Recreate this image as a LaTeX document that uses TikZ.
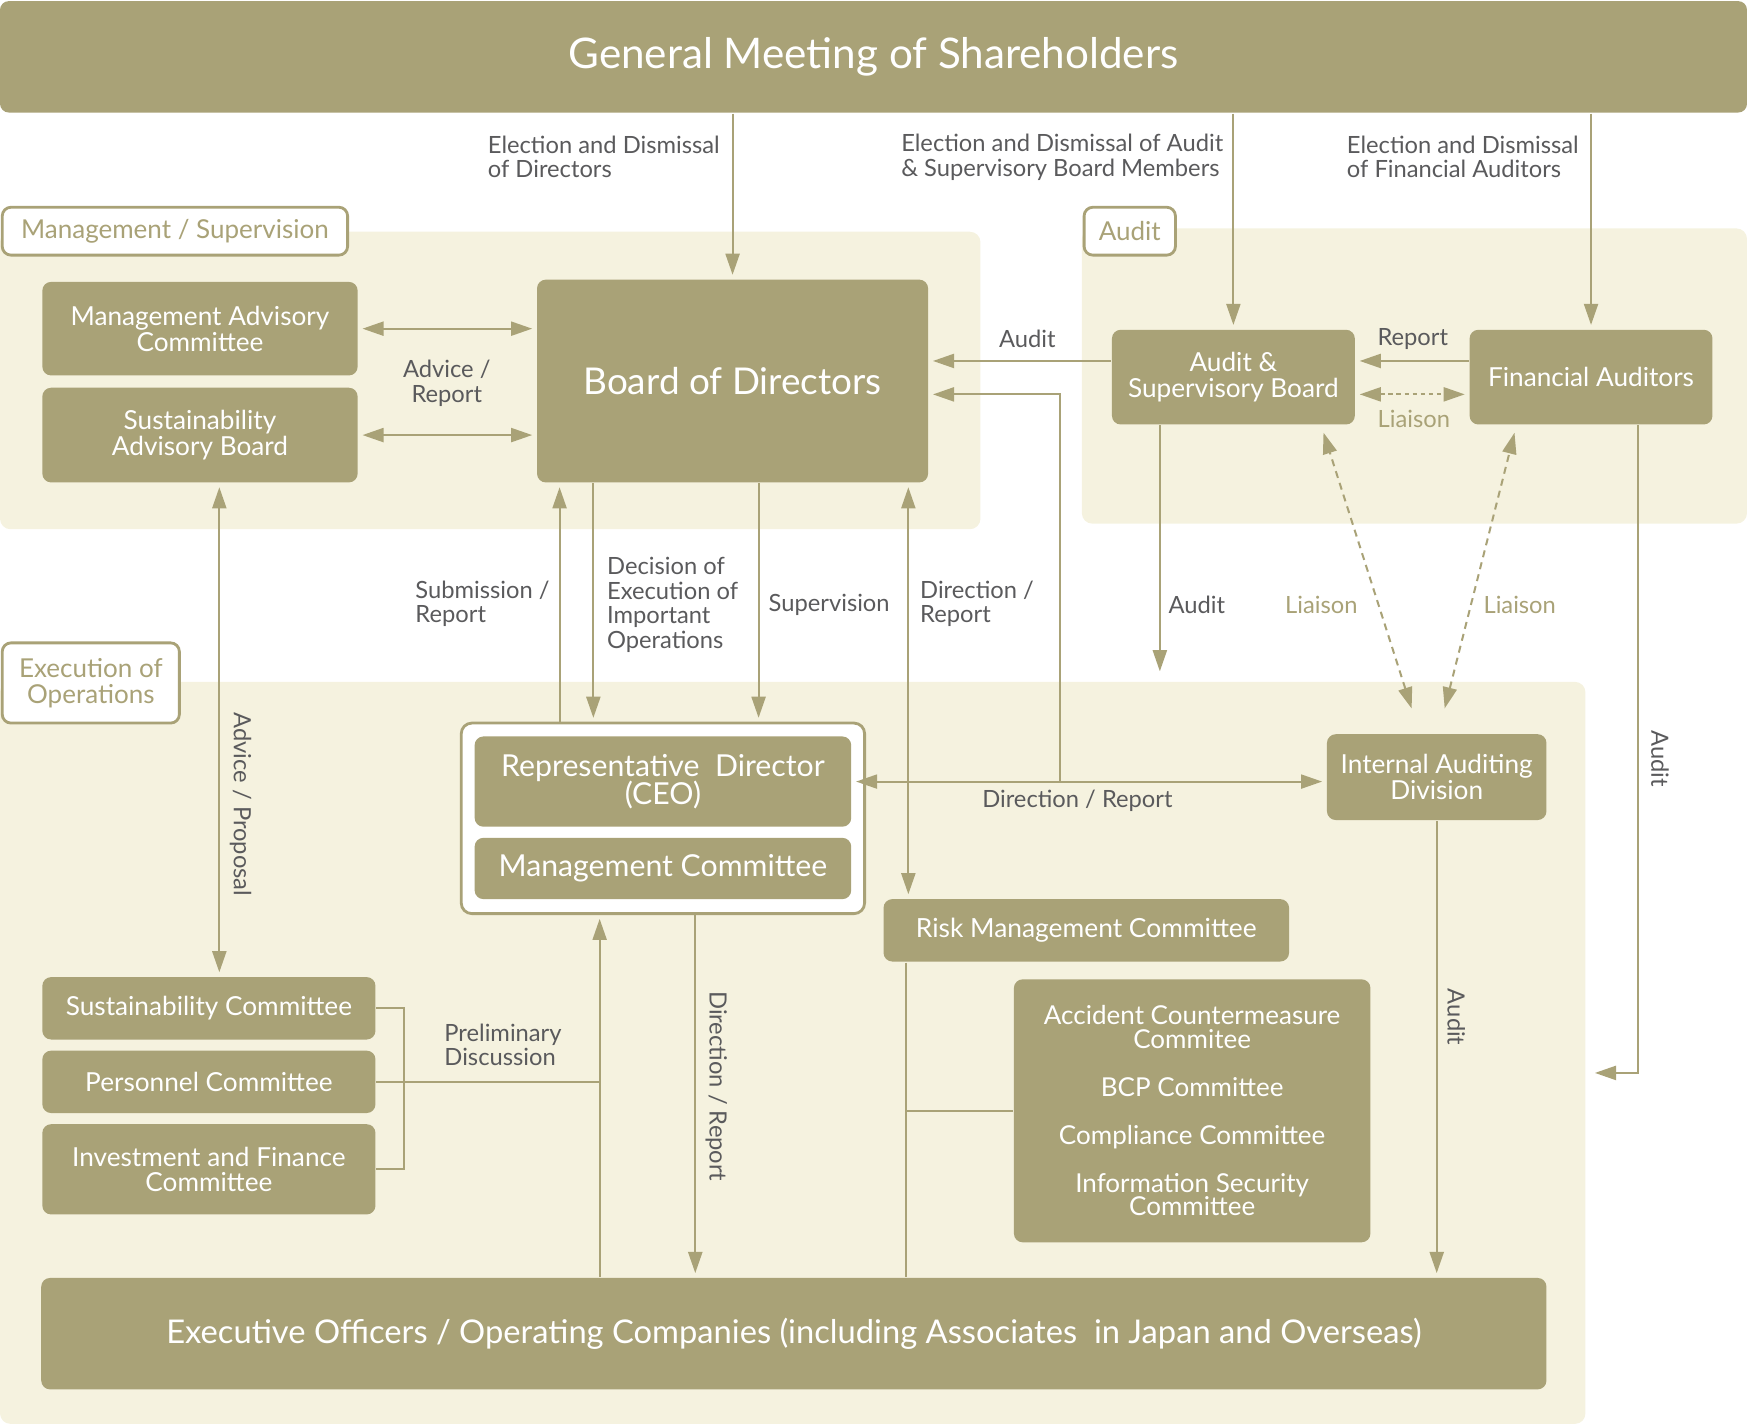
\documentclass[tikz,border=0pt]{standalone}
\usepackage{fontspec}
\setmainfont{Lato}
\usepackage{xcolor}
\usetikzlibrary{positioning,arrows.meta}

\definecolor{khaki}{HTML}{A9A277}
\definecolor{cream}{HTML}{F5F2DF}
\definecolor{txtgray}{HTML}{5A5A5C}
\newcommand\dpx{0.01114cm}

\tikzset{
  wh/.style 2 args={minimum width=#1*\dpx, minimum height=#2*\dpx},
  box/.style={fill=khaki, text=white, rounded corners=2.5pt, align=center,
    inner sep=0pt, font=\fontsize{7.45}{7.3}\selectfont},
  tab/.style={fill=white, draw=khaki, line width=0.8pt, text=khaki,
    rounded corners=2.5pt, align=center, inner sep=0pt,
    font=\fontsize{7.4}{7.3}\selectfont},
  lbl/.style={text=txtgray, align=left, inner sep=0pt,
    font=\fontsize{6.75}{6.95}\selectfont},
  lia/.style={lbl, text=khaki},
  arr/.style={->, shorten >=1.1pt},
  darr/.style={<->, shorten >=1.1pt, shorten <=1.1pt},
}

\begin{document}
\begin{tikzpicture}[x=\dpx, y=-\dpx, color=khaki, line width=0.57pt,
    >={Triangle[length=6pt,width=4pt]}]
  \useasboundingbox (0,0) rectangle (1568,1279);

  % panels
  \fill[cream, rounded corners=3pt] (0,208) rectangle (880,475);
  \fill[cream, rounded corners=3pt] (971,205) rectangle (1568,470);
  \fill[cream, rounded corners=3pt] (0,612) rectangle (1423,1278);
  \node[tab, wh={310}{43}] (msTab) at (157,207.5) {Management / Supervision};
  \node[tab, wh={82}{43}] (auTab) at (1014,207.5) {Audit};
  \node[tab, wh={159}{72}] (eoTab) at (81.5,613) {Execution of\\Operations};

  % boxes
  \node[box, wh={1568}{100}, font=\fontsize{12}{12}\selectfont] (gm) at (784,51)
    {General Meeting of Shareholders};
  \node[box, wh={283}{84}] (mac) at (179.5,295) {Management Advisory\\Committee};
  \node[box, wh={283}{85}] (sab) at (179.5,390.5) {Sustainability\\Advisory Board};
  \node[box, wh={351}{182}, font=\fontsize{10.5}{11}\selectfont] (bod) at (657.5,342)
    {Board of Directors};
  \node[box, wh={218}{85}] (asb) at (1107,338.5) {Audit \&\\Supervisory Board};
  \node[box, wh={218}{85}] (fa) at (1428,338.5) {Financial Auditors};
  \node[fill=white, draw=khaki, line width=0.8pt, rounded corners=3pt, wh={362}{171}]
    (ceobox) at (595,734.5) {};
  \node[box, wh={338}{81}, font=\fontsize{8.6}{8.2}\selectfont] (ceo) at (595,701.5)
    {Representative\ \ Director\\(CEO)};
  \node[box, wh={338}{55}, font=\fontsize{8.6}{8.2}\selectfont] (mc) at (595,779.5)
    {Management Committee};
  \node[box, wh={197}{77}] (iad) at (1289.5,697.5) {Internal Auditing\\Division};
  \node[box, wh={364}{56}, font=\fontsize{7.5}{8}\selectfont] (rmc) at (975,835)
    {Risk Management Committee};
  \node[box, wh={320}{236}, font=\fontsize{7.4}{6.8}\selectfont] (cmt) at (1070,997)
    {Accident Countermeasure\\Commitee\\[6.8pt]BCP Committee\\[6.8pt]Compliance Committee\\[6.8pt]Information Security\\Committee};
  \node[box, wh={299}{56}] (sc) at (187.5,905) {Sustainability Committee};
  \node[box, wh={299}{56}] (pc) at (187.5,971) {Personnel Committee};
  \node[box, wh={299}{81}] (ifc) at (187.5,1049.5) {Investment and Finance\\Committee};
  \node[box, wh={1351}{100}, font=\fontsize{9.3}{9}\selectfont] (eo) at (712.5,1197)
    {Executive Officers / Operating Companies (including Associates\ \ in Japan and Overseas)};

  % free ends
  \coordinate (auExec) at (1041,606);
  \coordinate (faExec) at (1428,963);
  \coordinate (drJoin) at (951,701);

  % connectors
  \draw[arr] (gm.south -| bod) -- (bod.north);
  \draw[arr] (gm.south -| asb) -- (asb.north);
  \draw[arr] (gm.south -| fa) -- (fa.north);
  \draw[darr] (mac.east) -- (mac.east -| bod.west);
  \draw[darr] (sab.east) -- (sab.east -| bod.west);
  \draw[arr] ([yshift=4.6pt]asb.west) -- ([yshift=4.6pt]asb.west -| bod.east);
  \draw[arr] ([yshift=4.6pt]fa.west) -- ([yshift=4.6pt]fa.west -| asb.east);
  \draw[darr, dash pattern=on 1.3pt off 1pt] ([yshift=-4.9pt]asb.east)
    -- ([yshift=-4.9pt]asb.east -| fa.west);
  \draw[arr] (asb.south -| auExec) -- (auExec);
  \draw[darr, dash pattern=on 2pt off 1.5pt] ([xshift=-6.8pt,yshift=6pt]iad.north)
    -- ([xshift=25.3pt,yshift=-1pt]asb.south);
  \draw[darr, dash pattern=on 2pt off 1.5pt] ([xshift=2pt,yshift=6pt]iad.north)
    -- ([xshift=-21.5pt,yshift=-1pt]fa.south);
  \draw[arr] ([xshift=13.3pt]fa.south) |- (faExec);
  \draw[darr] ([xshift=5.5pt]sab.south) -- ([xshift=5.5pt]sab.south |- sc.north);
  \draw[arr] ([xshift=-29.4pt]ceobox.north) -- ([xshift=-29.4pt]ceobox.north |- bod.south);
  \draw[arr] ([xshift=-39.6pt]bod.south) -- ([xshift=-39.6pt]bod.south |- ceobox.north);
  \draw[arr] ([xshift=7.4pt]bod.south) -- ([xshift=7.4pt]bod.south |- ceobox.north);
  \draw[darr] ([xshift=50pt]bod.south) -- ([xshift=50pt]bod.south |- rmc.north);
  \draw[darr] (ceo.east) -- (ceo.east -| iad.west);
  \draw[arr] (drJoin) |- ([yshift=-3.8pt]bod.east);
  \draw[arr] ([xshift=9.2pt]ceobox.south) -- ([xshift=9.2pt]ceobox.south |- eo.north);
  \draw[arr] ([xshift=-18pt]ceobox.south |- eo.north) -- ([xshift=-18pt]ceobox.south);
  \draw (pc.east) -- ([xshift=-18pt]ceobox.south |- pc.east);
  \draw (sc.east) -- ++(7.9pt,0) |- (ifc.east);
  \draw ([xshift=-51.2pt]rmc.south) -- ([xshift=-51.2pt]rmc.south |- eo.north);
  \draw (cmt.west) -- ([xshift=-51.2pt]rmc.south |- cmt.west);
  \draw[arr] (iad.south) -- (iad.south |- eo.north);

  % labels
  \node[lbl, anchor=west] (elDir) at (437,141) {Election and Dismissal\\of Directors};
  \node[lbl, anchor=west] (elAsb) at (808,141)
    {Election and Dismissal of Audit\\\& Supervisory Board Members};
  \node[lbl, anchor=west] (elFa) at (1208,141) {Election and Dismissal\\of Financial Auditors};
  \node[lbl, align=center] (advRep) at (401,344) {Advice /\\Report};
  \node[lbl] (audBod) at (922,304) {Audit};
  \node[lbl] (repFa) at (1268,304) {Report};
  \node[lia] (liaA) at (1269,376) {Liaison};
  \node[lbl, anchor=west] (audDown) at (1048,543) {Audit};
  \node[lia] (liaB) at (1186,543) {Liaison};
  \node[lia] (liaC) at (1364,543) {Liaison};
  \node[lbl, rotate=-90] (audFa) at (1490,681) {Audit};
  \node[lbl, rotate=-90] (advProp) at (216,722) {Advice / Proposal};
  \node[lbl, anchor=west] (subRep) at (372,542) {Submission /\\Report};
  \node[lbl, anchor=west] (decExe) at (544,543)
    {Decision of\\Execution of\\Important\\Operations};
  \node[lbl, anchor=west] (supv) at (689,543) {Supervision};
  \node[lbl, anchor=west] (dirRepA) at (825,542) {Direction /\\Report};
  \node[lbl] (dirRepB) at (967,719) {Direction / Report};
  \node[lbl, anchor=west] (prelim) at (398,938) {Preliminary\\Discussion};
  \node[lbl, rotate=-90] (dirRepC) at (643,975) {Direction / Report};
  \node[lbl, rotate=-90] (audIad) at (1307,913) {Audit};
\end{tikzpicture}
\end{document}
